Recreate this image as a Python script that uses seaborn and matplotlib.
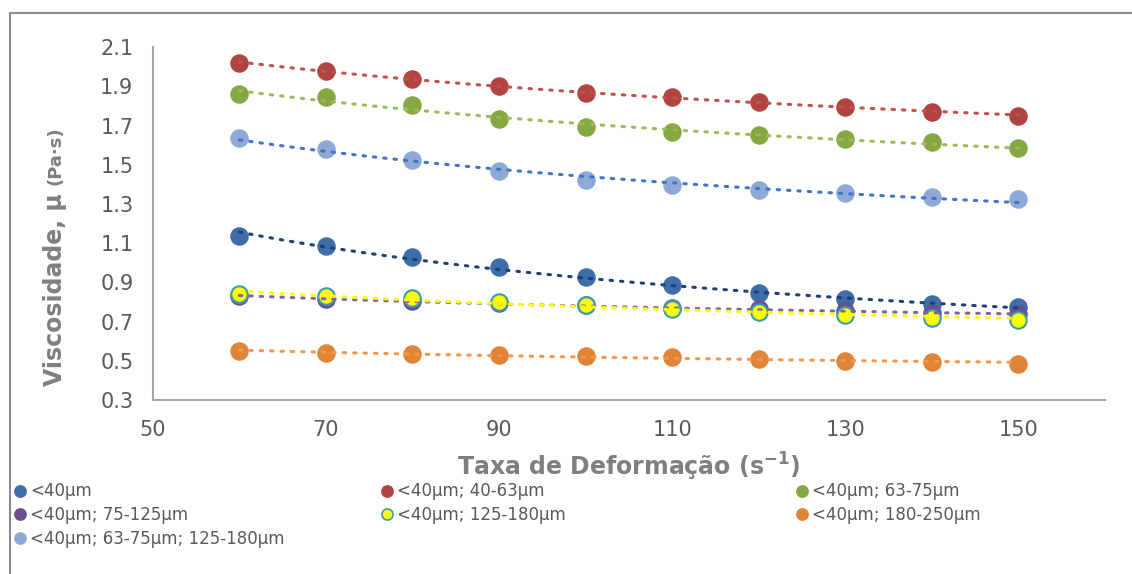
import numpy as np
import pandas as pd
import seaborn as sns
import matplotlib.pyplot as plt
from matplotlib.lines import Line2D
from matplotlib.patches import Rectangle

taxa = [60, 70, 80, 90, 100, 110, 120, 130, 140, 150]
series_names = ['<40µm', '<40µm; 40-63µm', '<40µm; 63-75µm', '<40µm; 75-125µm',
                '<40µm; 125-180µm', '<40µm; 180-250µm', '<40µm; 63-75µm; 125-180µm']
v_40 = [1.136, 1.085, 1.03, 0.978, 0.927, 0.886, 0.845, 0.814, 0.789, 0.773]
v_40_63 = [2.018, 1.98, 1.937, 1.90, 1.865, 1.845, 1.82, 1.795, 1.77, 1.75]
v_63_75 = [1.86, 1.845, 1.805, 1.733, 1.69, 1.666, 1.65, 1.63, 1.615, 1.585]
v_75_125 = [0.83, 0.815, 0.804, 0.794, 0.783, 0.768, 0.763, 0.753, 0.743, 0.738]
v_125_180 = [0.84, 0.83, 0.82, 0.80, 0.785, 0.765, 0.75, 0.735, 0.72, 0.71]
v_180_250 = [0.55, 0.54, 0.535, 0.53, 0.525, 0.52, 0.51, 0.50, 0.495, 0.485]
v_mix = [1.636, 1.58, 1.523, 1.467, 1.42, 1.396, 1.37, 1.355, 1.335, 1.325]
values = [v_40, v_40_63, v_63_75, v_75_125, v_125_180, v_180_250, v_mix]

marker_colors = ['#3E6DA8', '#B04440', '#86A843', '#6B4F91', '#FFFF00', '#E08538', '#8EA9D6']
edge_colors = ['#3E6DA8', '#B04440', '#86A843', '#6B4F91', '#3A9BB5', '#E08538', '#8EA9D6']
trend_colors = ['#1F3F78', '#C0504D', '#9BBB59', '#8064A2', '#FFFF00', '#F79646', '#4472C4']

rows = []
for name, vals in zip(series_names, values):
    for x, y in zip(taxa, vals):
        rows.append({'taxa': x, 'visc': y, 'serie': name})
df = pd.DataFrame(rows)

sns.set_style('white')
plt.rcParams['font.family'] = ['DejaVu Sans']

fig = plt.figure(figsize=(11.32, 5.74), dpi=100)
ax = fig.add_axes([0.135, 0.303, 0.841, 0.615])

grey = '#595959'
draw_order = [5, 0, 3, 4, 6, 2, 1]
for i in draw_order:
    name = series_names[i]
    sub = df[df['serie'] == name]
    sns.scatterplot(data=sub, x='taxa', y='visc', ax=ax, color=marker_colors[i],
                    edgecolor=edge_colors[i], linewidth=1.5, s=140, zorder=3, legend=False)
    # power trendline
    b, a = np.polyfit(np.log(sub['taxa']), np.log(sub['visc']), 1)
    xs = np.linspace(60, 150, 100)
    ax.plot(xs, np.exp(a) * xs ** b, linestyle=(0, (0.8, 2.6)), color=trend_colors[i],
            linewidth=2.2, zorder=4, dash_capstyle='round')

ax.set_xlim(50, 160)
ax.set_ylim(0.3, 2.1)
ax.set_xticks([50, 70, 90, 110, 130, 150])
ax.set_yticks([0.3, 0.5, 0.7, 0.9, 1.1, 1.3, 1.5, 1.7, 1.9, 2.1])
ax.set_yticklabels(['0.3', '0.5', '0.7', '0.9', '1.1', '1.3', '1.5', '1.7', '1.9', '2.1'])
ax.tick_params(axis='both', labelsize=15, colors='#A6A6A6', labelcolor=grey, length=8,
               width=1.2, direction='out', pad=6)
for s in ['top', 'right']:
    ax.spines[s].set_visible(False)
for s in ['left', 'bottom']:
    ax.spines[s].set_color('#A6A6A6')
    ax.spines[s].set_linewidth(1.5)

label_col = '#7F7F7F'
ax.set_xlabel(r'Taxa de Deformação (s$^{\mathbf{-1}}$)', fontsize=17, fontweight='bold',
              color=label_col, labelpad=8)
ax.set_ylabel('')
t1 = fig.text(55 / 1132, 1 - 386 / 574, 'Viscosidade, µ ', rotation=90, fontsize=17,
              fontweight='bold', color=label_col, ha='center', va='bottom')
ax.annotate('(Pa·s)', xy=(0.5, 1), xycoords=t1, rotation=90, fontsize=13,
            fontweight='bold', color=label_col, ha='center', va='bottom')

# legend: three columns, row-major like the original
col_items = [[0, 3, 6], [1, 4], [2, 5]]
col_x = [0.000, 0.324, 0.691]
for items, cx in zip(col_items, col_x):
    handles = [Line2D([], [], linestyle='none', marker='o', markersize=8,
                      markerfacecolor=marker_colors[i], markeredgecolor=edge_colors[i],
                      markeredgewidth=1.2) for i in items]
    labels = [series_names[i] for i in items]
    fig.legend(handles, labels, loc='upper left', bbox_to_anchor=(cx, 0.180),
               frameon=False, fontsize=12, labelcolor=grey, handletextpad=0.1,
               labelspacing=0.35, handlelength=1.0, borderpad=0.2)

fig.patches.append(Rectangle((10 / 1132, -0.1), 1.2, 1 - 13 / 574 + 0.1, transform=fig.transFigure,
                             fill=False, edgecolor='#8C8C8C', linewidth=1.5))

fig.savefig('out.png', dpi=100)
